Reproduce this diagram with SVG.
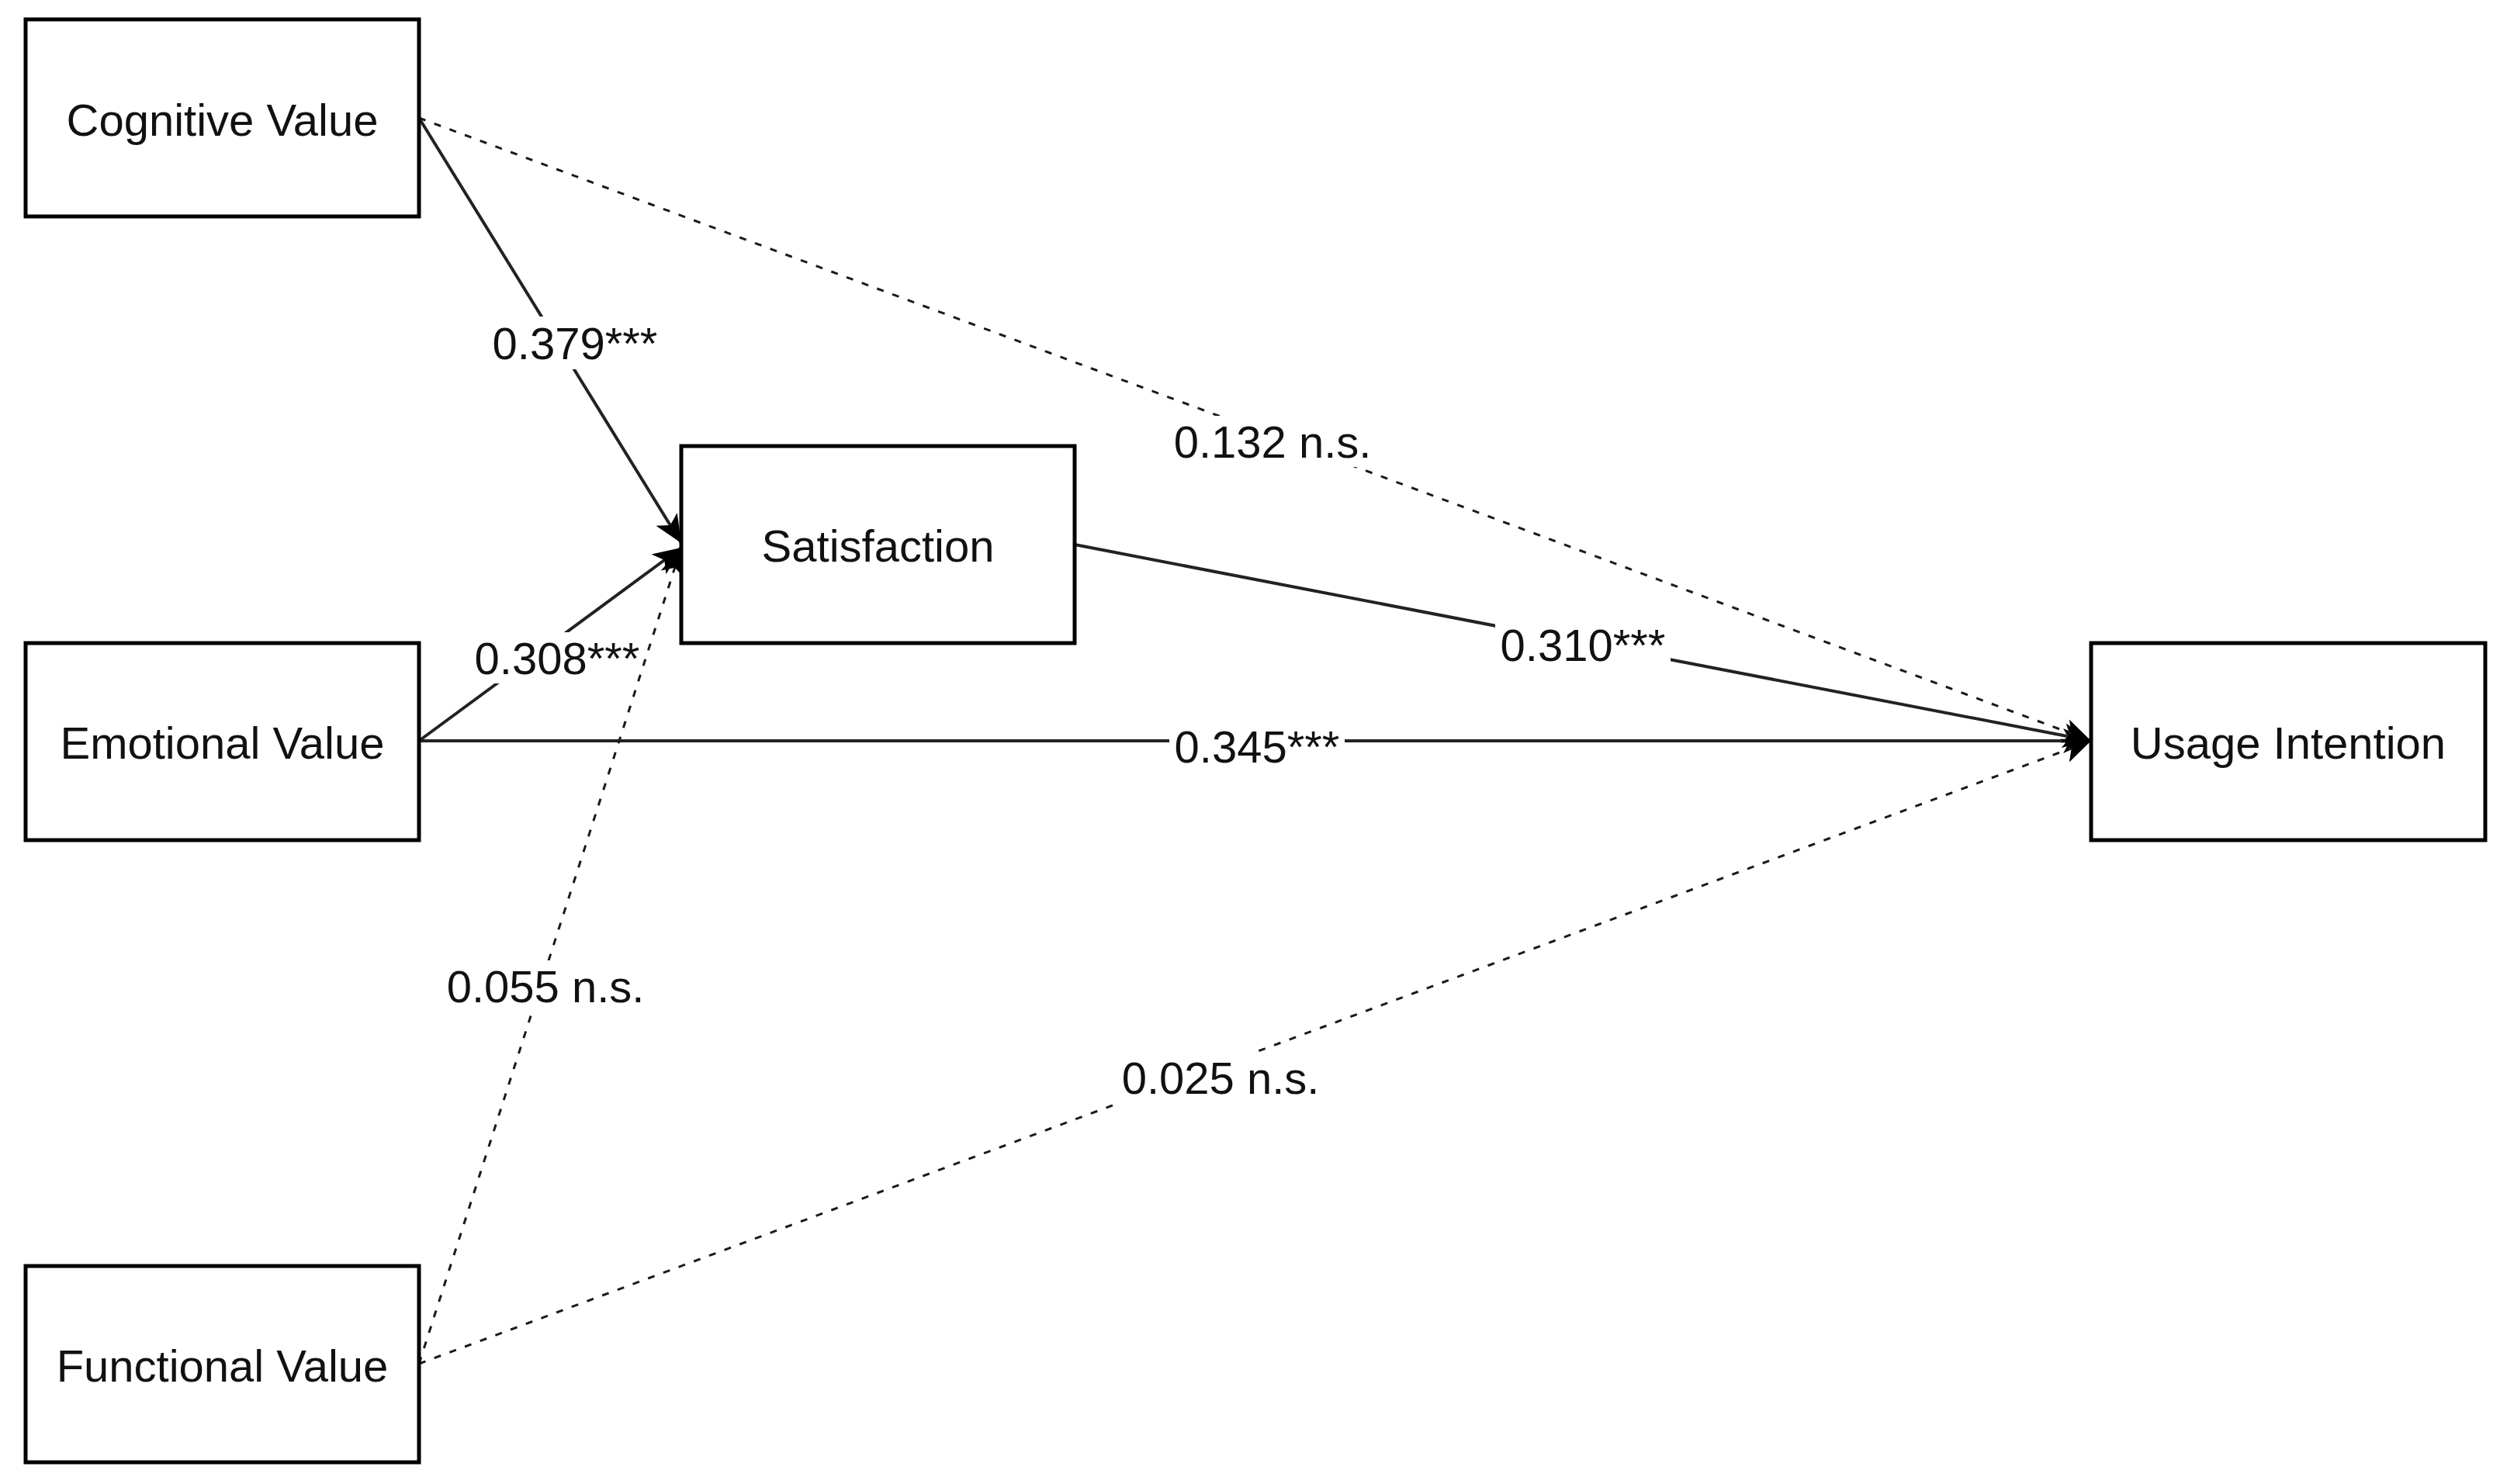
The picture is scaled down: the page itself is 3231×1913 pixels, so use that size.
<svg xmlns="http://www.w3.org/2000/svg" width="3231" height="1913" viewBox="0 0 3231 1913">
<style>
.box{fill:#fff;stroke:#000;stroke-width:5}
.nt{font-family:"Liberation Sans",Arial,sans-serif;font-size:58px;fill:#111;text-anchor:middle}
.lt{font-family:"Liberation Sans",Arial,sans-serif;font-size:58px;fill:#111;text-anchor:middle}
.solid{fill:none;stroke:#222;stroke-width:4}
.dash{fill:none;stroke:#1a1a1a;stroke-width:3;stroke-dasharray:9 12}
.lbg{fill:#fff}
</style>
<defs>
<marker id="arr" markerUnits="userSpaceOnUse" markerWidth="38" markerHeight="34" refX="36" refY="16" orient="auto" overflow="visible">
<path d="M0,0 L36,16 L0,32 L9,16 Z" fill="#000"/>
</marker>
</defs>
<rect width="3231" height="1913" fill="#fff"/>
<g id="connectors">
<g id="e-cog-sat">
<line class="solid" x1="540" y1="152" x2="878" y2="700" marker-end="url(#arr)"/>
<rect class="lbg" x="628" y="408" width="226" height="68"/>
<text class="lt" x="741" y="463">0.379***</text>
</g>
<g id="e-emo-sat">
<line class="solid" x1="540" y1="955" x2="878" y2="706" marker-end="url(#arr)"/>
<rect class="lbg" x="605" y="815" width="226" height="66"/>
<text class="lt" x="718" y="869">0.308***</text>
</g>
<g id="e-emo-use">
<line class="solid" x1="540" y1="955" x2="2695" y2="955" marker-end="url(#arr)"/>
<rect class="lbg" x="1507" y="930" width="226" height="66"/>
<text class="lt" x="1620" y="983">0.345***</text>
</g>
<g id="e-sat-use">
<line class="solid" x1="1385" y1="702" x2="2695" y2="955" marker-end="url(#arr)"/>
<rect class="lbg" x="1927" y="798" width="226" height="66"/>
<text class="lt" x="2040" y="852">0.310***</text>
</g>
<g id="e-cog-use">
<line class="dash" x1="540" y1="152" x2="2695" y2="955" marker-end="url(#arr)"/>
<rect class="lbg" x="1508" y="536" width="264" height="66"/>
<text class="lt" x="1640" y="590">0.132 n.s.</text>
</g>
<g id="e-fun-use">
<line class="dash" x1="540" y1="1758" x2="2695" y2="955" marker-end="url(#arr)"/>
<rect class="lbg" x="1441" y="1356" width="264" height="66"/>
<text class="lt" x="1573" y="1410">0.025 n.s.</text>
</g>
<g id="e-fun-sat">
<line class="dash" x1="540" y1="1758" x2="878" y2="706" marker-end="url(#arr)"/>
<rect class="lbg" x="571" y="1238" width="264" height="66"/>
<text class="lt" x="703" y="1292">0.055 n.s.</text>
</g>
</g>
<g id="cognitive">
<rect class="box" x="33" y="25" width="507" height="254"/>
<text class="nt" x="286.5" y="175">Cognitive Value</text>
</g>
<g id="emotional">
<rect class="box" x="33" y="829" width="507" height="254"/>
<text class="nt" x="286.5" y="978">Emotional Value</text>
</g>
<g id="functional">
<rect class="box" x="33" y="1632" width="507" height="253"/>
<text class="nt" x="286.5" y="1781">Functional Value</text>
</g>
<g id="satisfaction">
<rect class="box" x="878" y="575" width="507" height="254"/>
<text class="nt" x="1131.5" y="724">Satisfaction</text>
</g>
<g id="usage">
<rect class="box" x="2695" y="829" width="508" height="254"/>
<text class="nt" x="2949" y="978">Usage Intention</text>
</g>
</svg>
